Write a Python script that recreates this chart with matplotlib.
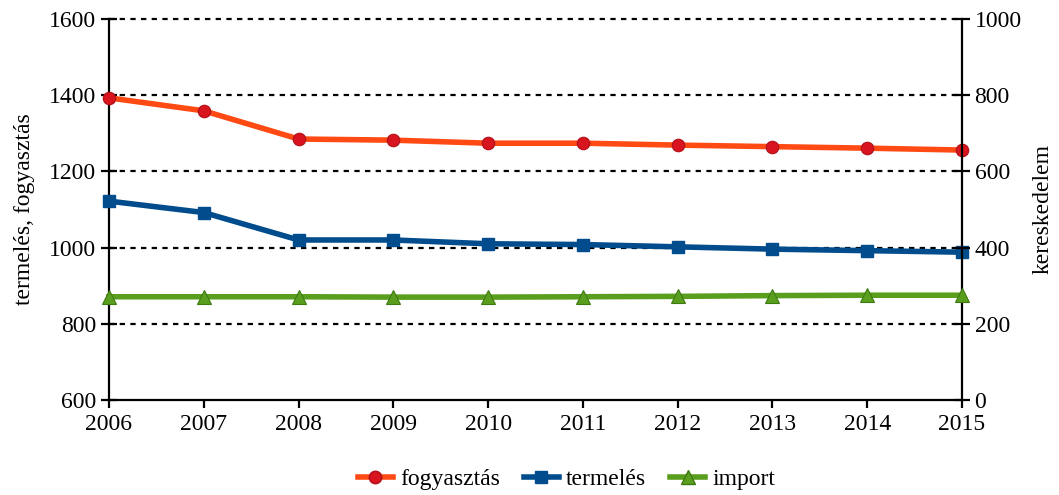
import matplotlib
matplotlib.use("Agg")
import matplotlib.pyplot as plt
from matplotlib.lines import Line2D

years = [2006, 2007, 2008, 2009, 2010, 2011, 2012, 2013, 2014, 2015]
fogyasztas = [1393, 1359, 1285, 1282, 1274, 1274, 1269, 1265, 1261, 1256]
termeles = [1122, 1092, 1020, 1020, 1010, 1008, 1002, 996, 992, 988]
importv = [271, 271, 271, 270, 270, 271, 272, 274, 275, 275]

left_ticks = [600, 800, 1000, 1200, 1400, 1600]
right_ticks = [0, 200, 400, 600, 800, 1000]

plt.rcParams['font.family'] = ['Liberation Serif', 'DejaVu Serif']
fs = 17

fig = plt.figure(figsize=(10.59, 4.95), dpi=100)
ax = fig.add_axes([109/1059, 1 - 400/495, (962-109)/1059, (400-19)/495])
ax2 = ax.twinx()

c_f = '#FF4A14'
c_t = '#004C8C'
c_i = '#5A9E1E'

for y in left_ticks[1:]:
    ax.axhline(y, color='black', linestyle=(0, (2.4, 2.4)), linewidth=1.6,
               zorder=1, clip_on=False)

ax.plot(years, fogyasztas, color=c_f, linewidth=4, marker='o', markersize=9,
        markerfacecolor='#D8141E', markeredgecolor='#B01018', markeredgewidth=0.8,
        zorder=4, clip_on=False)
ax.plot(years, termeles, color=c_t, linewidth=4, marker='s', markersize=8.5,
        markerfacecolor=c_t, markeredgecolor=c_t, zorder=4, clip_on=False)
ax2.plot(years, importv, color=c_i, linewidth=4, marker='^', markersize=10,
         markerfacecolor=c_i, markeredgecolor='#3E7A12', markeredgewidth=0.8,
         zorder=4, clip_on=False)

ax.set_xlim(2006, 2015)
ax.set_ylim(600, 1600)
ax2.set_ylim(0, 1000)
ax.set_xticks(years)
ax.set_yticks(left_ticks)
ax2.set_yticks(right_ticks)

for a in (ax, ax2):
    a.spines['top'].set_visible(False)
    for s in a.spines.values():
        s.set_linewidth(1.6)
        s.set_color('black')
ax.spines['right'].set_visible(False)
ax2.spines['left'].set_visible(False)
ax2.spines['bottom'].set_visible(False)

ax.tick_params(axis='y', direction='inout', length=12, width=1.6, labelsize=fs, pad=3)
ax2.tick_params(axis='y', direction='inout', length=12, width=1.6, labelsize=fs, pad=3)
ax.tick_params(axis='x', direction='out', length=6, width=1.6, labelsize=fs, pad=4)

ax.set_ylabel('termelés, fogyasztás', fontsize=fs, labelpad=10)
ax2.set_ylabel('kereskedelem', fontsize=fs, labelpad=8)

handles = [
    Line2D([], [], color=c_f, linewidth=4, marker='o', markersize=9,
           markerfacecolor='#D8141E', markeredgecolor='#B01018'),
    Line2D([], [], color=c_t, linewidth=4, marker='s', markersize=8.5),
    Line2D([], [], color=c_i, linewidth=4, marker='^', markersize=10,
           markeredgecolor='#3E7A12'),
]
fig.legend(handles, ['fogyasztás', 'termelés', 'import'], loc='center',
           bbox_to_anchor=(0.535, 1 - 479/495), ncol=3, frameon=False,
           fontsize=fs, handlelength=1.5, handletextpad=0.3, columnspacing=1.0)

fig.savefig('out.png', dpi=100)
